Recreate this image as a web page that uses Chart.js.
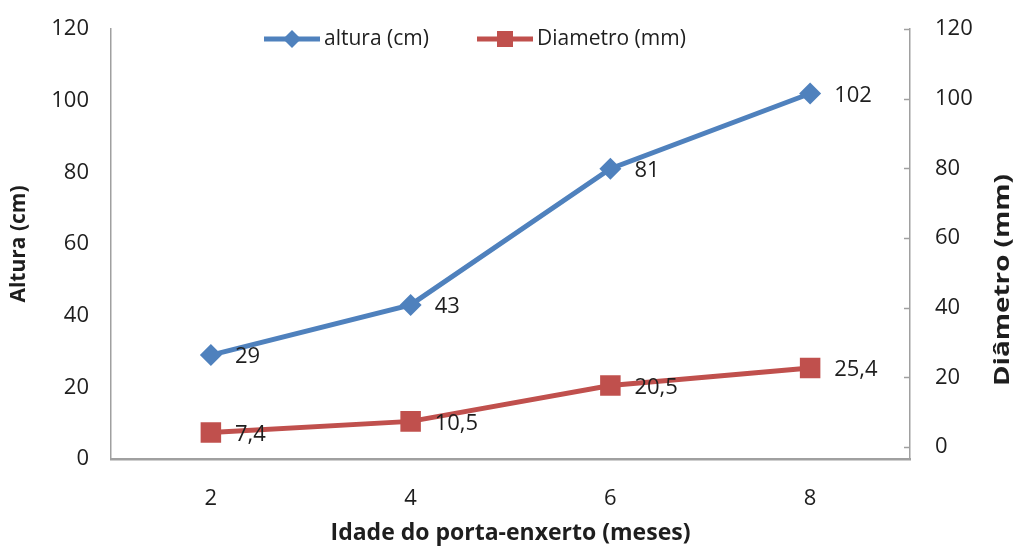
<!DOCTYPE html>
<html>
<head>
<meta charset="utf-8">
<script src="https://cdn.jsdelivr.net/npm/chart.js@4/dist/chart.umd.min.js"></script>
<style>
html,body{margin:0;padding:0;background:#fff;}
canvas{display:block;}
</style>
</head>
<body>
<canvas id="c" width="1015" height="547"></canvas>
<script>
const categories = ['2', '4', '6', '8'];
const altura = [29, 43, 81, 102];
const diametro = [7.4, 10.5, 20.5, 25.4];
const seriesNames = ['altura (cm)', 'Diametro (mm)'];
const leftTitle = 'Altura (cm)';
const rightTitle = 'Diâmetro (mm)';
const xTitle = 'Idade do porta-enxerto (meses)';

const BLUE = '#4F81BD';
const RED = '#C0504D';
const AXIS = '#a0a0a0';
const FONT = '"Open Sans", Lato, sans-serif';
const TXT = '#1e1e1e';

const fmt = v => String(v).replace('.', ',');

const dataLabels = {
  id: 'dataLabels',
  afterDatasetsDraw(chart) {
    const ctx = chart.ctx;
    ctx.save();
    ctx.font = '22px ' + FONT;
    ctx.fillStyle = TXT;
    ctx.textAlign = 'left';
    ctx.textBaseline = 'middle';
    chart.data.datasets.forEach((ds, i) => {
      const meta = chart.getDatasetMeta(i);
      meta.data.forEach((pt, j) => {
        ctx.fillText(fmt(ds.data[j]), pt.x + 24, pt.y + 2);
      });
    });
    ctx.restore();
  }
};

const extras = {
  id: 'extras',
  afterDraw(chart) {
    const ctx = chart.ctx;
    const ca = chart.chartArea;
    const y1 = chart.scales.y1;
    ctx.save();
    // inward tick marks on right axis
    ctx.strokeStyle = AXIS;
    ctx.lineWidth = 1.5;
    y1.ticks.forEach(t => {
      const py = Math.round(y1.getPixelForValue(t.value)) + 0.5;
      ctx.beginPath();
      ctx.moveTo(ca.right - 6, py);
      ctx.lineTo(ca.right, py);
      ctx.stroke();
    });
    // right axis title, reading bottom-to-top
    ctx.font = 'bold 21px ' + FONT;
    ctx.fillStyle = TXT;
    ctx.textAlign = 'center';
    ctx.textBaseline = 'middle';
    ctx.translate(1003, 280);
    ctx.rotate(-Math.PI / 2);
    const w = ctx.measureText(rightTitle).width;
    ctx.scale(212 / w, 1);
    ctx.fillText(rightTitle, 0, 0);
    ctx.restore();

    // legend inside plot
    ctx.save();
    const ly = 39;
    const items = [
      {x: 264, color: BLUE, style: 'diamond', text: seriesNames[0]},
      {x: 477, color: RED, style: 'square', text: seriesNames[1]}
    ];
    items.forEach(it => {
      ctx.strokeStyle = it.color;
      ctx.lineWidth = 5;
      ctx.beginPath();
      ctx.moveTo(it.x, ly);
      ctx.lineTo(it.x + 56, ly);
      ctx.stroke();
      ctx.fillStyle = it.color;
      const cx = it.x + 28;
      ctx.beginPath();
      if (it.style === 'diamond') {
        ctx.moveTo(cx, ly - 9); ctx.lineTo(cx + 9, ly); ctx.lineTo(cx, ly + 9); ctx.lineTo(cx - 9, ly);
        ctx.closePath();
      } else {
        ctx.rect(cx - 8, ly - 8, 16, 16);
      }
      ctx.fill();
      ctx.font = '21px ' + FONT;
      ctx.fillStyle = TXT;
      ctx.textAlign = 'left';
      ctx.textBaseline = 'middle';
      ctx.fillText(it.text, it.x + 60, ly);
    });
    ctx.restore();
  }
};

new Chart(document.getElementById('c'), {
  type: 'line',
  data: {
    labels: categories,
    datasets: [
      {
        label: seriesNames[0],
        data: altura,
        borderColor: BLUE,
        backgroundColor: BLUE,
        borderWidth: 5,
        pointStyle: 'rectRot',
        pointRadius: 11,
        pointHoverRadius: 11,
        pointBorderWidth: 0,
        yAxisID: 'y',
        tension: 0
      },
      {
        label: seriesNames[1],
        data: diametro,
        borderColor: RED,
        backgroundColor: RED,
        borderWidth: 5,
        pointStyle: 'rect',
        pointRadius: 14.5,
        pointHoverRadius: 14.5,
        pointBorderWidth: 0,
        yAxisID: 'y',
        tension: 0
      }
    ]
  },
  options: {
    responsive: false,
    animation: false,
    events: [],
    layout: {padding: {top: 29, left: 0, right: 0, bottom: 0}},
    plugins: {legend: {display: false}, tooltip: {enabled: false}},
    scales: {
      x: {
        type: 'category',
        offset: true,
        grid: {display: false, drawTicks: false},
        border: {display: true, color: AXIS, width: 2.5},
        ticks: {font: {family: FONT, size: 22}, color: TXT, padding: 27},
        title: {display: true, text: xTitle, font: {family: FONT, size: 23, weight: 'bold'}, color: TXT, padding: {top: 10, bottom: 0}},
        afterFit(s) { s.height = 88; s.paddingLeft = 0; s.paddingRight = 0; }
      },
      y: {
        position: 'left',
        min: 0, max: 120,
        ticks: {stepSize: 20, font: {family: FONT, size: 22}, color: TXT, padding: 22},
        grid: {display: false, drawTicks: false},
        border: {display: true, color: AXIS, width: 1.5},
        title: {display: true, text: leftTitle, font: {family: FONT, size: 21, weight: 'bold'}, color: TXT, padding: {top: 6, bottom: 0}},
        afterFit(s) { s.width = 111; s.paddingTop = 0; s.paddingBottom = 0; }
      },
      y1: {
        position: 'right',
        min: -3.4, max: 120,
        afterBuildTicks(s) { s.ticks = [0, 20, 40, 60, 80, 100, 120].map(v => ({value: v})); },
        ticks: {font: {family: FONT, size: 22}, color: TXT, padding: 25},
        grid: {display: false, drawTicks: false},
        border: {display: true, color: AXIS, width: 1.5},
        afterFit(s) { s.width = 105; s.paddingTop = 0; s.paddingBottom = 0; }
      }
    }
  },
  plugins: [dataLabels, extras]
});
</script>
</body>
</html>
